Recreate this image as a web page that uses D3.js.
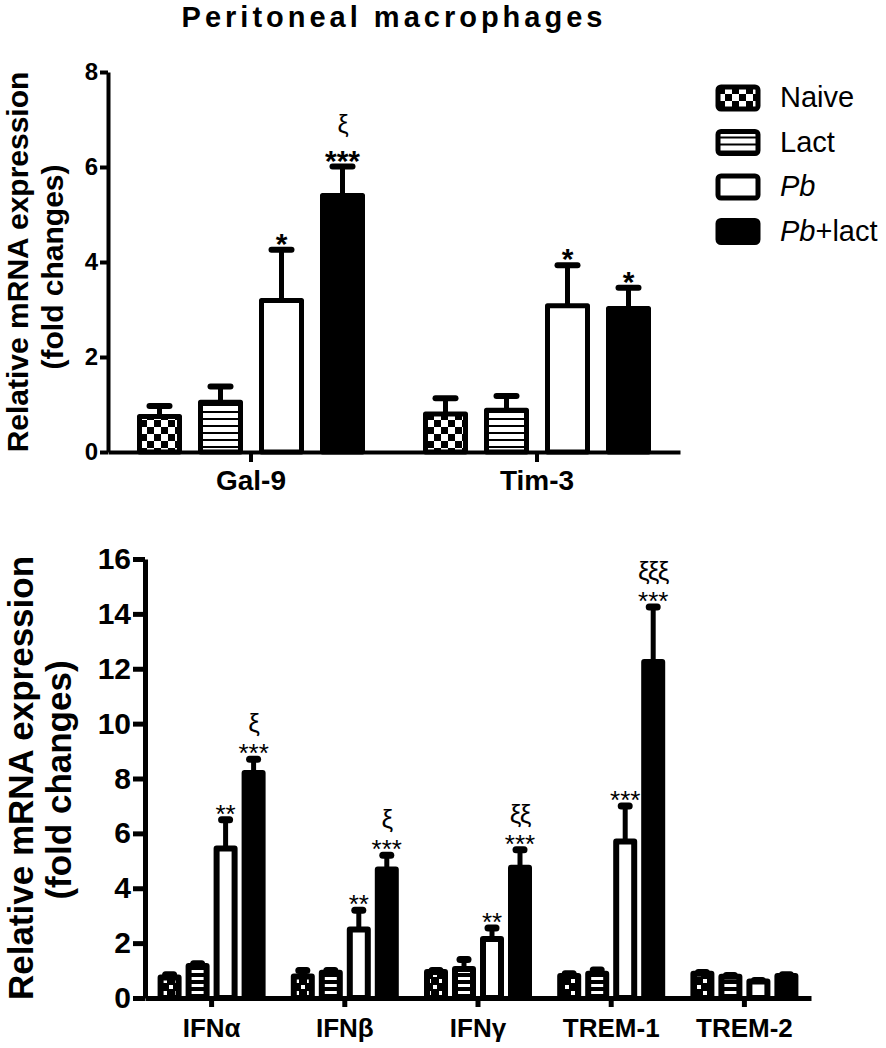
<!DOCTYPE html>
<html>
<head>
<meta charset="utf-8">
<script src="https://d3js.org/d3.v7.min.js"></script>
<style>
body { margin: 0; background: #fff; }
text { font-family: "Liberation Sans", Arial, sans-serif; fill: #000; }
</style>
</head>
<body>
<svg id="drawing_region"></svg>
<script>
const series = ["Naive", "Lact", "Pb", "Pb+lact"];

// upper panel
const topCategories = ["Gal-9", "Tim-3"];
const topNaive = [0.75, 0.80];
const topNaiveErr = [0.97, 1.13];
const topLact = [1.05, 0.88];
const topLactErr = [1.38, 1.18];
const topPb = [3.19, 3.08];
const topPbErr = [4.26, 3.93];
const topPbLact = [5.40, 3.02];
const topPbLactErr = [6.01, 3.46];
const topStars = [["", "", "*", "***"], ["", "", "*", "*"]];
const topXi = [["", "", "", "ξ"], ["", "", "", ""]];
const topTicks = [0, 2, 4, 6, 8];

// lower panel
const botCategories = ["IFNα", "IFNβ", "IFNγ", "TREM-1", "TREM-2"];
const botNaive = [0.75, 0.78, 0.95, 0.80, 0.88];
const botNaiveErr = [0.85, 1.00, 1.00, 0.88, 0.93];
const botLact = [1.17, 0.92, 1.06, 0.88, 0.77];
const botLactErr = [1.25, 1.00, 1.40, 1.02, 0.82];
const botPb = [5.45, 2.50, 2.15, 5.70, 0.60];
const botPbErr = [6.50, 3.20, 2.55, 7.00, 0.64];
const botPbLact = [8.20, 4.68, 4.75, 12.25, 0.80];
const botPbLactErr = [8.70, 5.20, 5.40, 14.25, 0.85];
const botStars = [["", "", "**", "***"], ["", "", "**", "***"], ["", "", "**", "***"], ["", "", "***", "***"], ["", "", "", ""]];
const botXi = [["", "", "", "ξ"], ["", "", "", "ξ"], ["", "", "", "ξξ"], ["", "", "", "ξξξ"], ["", "", "", ""]];
const botTicks = [0, 2, 4, 6, 8, 10, 12, 14, 16];

function buildRows(categories, means, errs, stars, xis) {
    const rows = [];
    categories.forEach((c, i) => {
        series.forEach((s, j) => {
            rows.push({ cat: c, series: s, mean: means[j][i], err: errs[j][i],
                        star: stars[i][j], xi: xis[i][j] });
        });
    });
    return rows;
}

const topData = buildRows(topCategories,
    [topNaive, topLact, topPb, topPbLact],
    [topNaiveErr, topLactErr, topPbErr, topPbLactErr], topStars, topXi);
const botData = buildRows(botCategories,
    [botNaive, botLact, botPb, botPbLact],
    [botNaiveErr, botLactErr, botPbErr, botPbLactErr], botStars, botXi);

const svg = d3.select('#drawing_region')
    .attr('width', 886)
    .attr('height', 1048);

// fill patterns
const defs = svg.append('defs');
function addPattern(id, size, bg, fg, rects) {
    const p = defs.append('pattern')
        .attr('id', id)
        .attr('patternUnits', 'userSpaceOnUse')
        .attr('width', size)
        .attr('height', size);
    p.append('rect').attr('width', size).attr('height', size).attr('fill', bg);
    rects.forEach(r => {
        p.append('rect').attr('x', r[0]).attr('y', r[1])
            .attr('width', r[2]).attr('height', r[3]).attr('fill', fg);
    });
}
addPattern('checkTop', 14, 'white', 'black', [[0, 0, 7, 7], [7, 7, 7, 7]]);
addPattern('linesTop', 7, 'white', 'black', [[0, 5, 7, 2]]);
addPattern('checkBot', 12, 'black', 'white', [[1, 1, 4, 4], [7, 7, 4, 4]]);
addPattern('linesBot', 7, 'white', 'black', [[0, 0, 7, 4]]);

class BarPanel {
    constructor(svg, data, categories, opts) {
        this.svg = svg;
        this.data = data;
        this.categories = categories;
        this.o = opts;
        this.init();
    }

    init() {
        const o = this.o;
        this.xscale = d3.scaleBand()
            .domain(this.categories)
            .range([o.left, o.right]);
        const bw = this.xscale.bandwidth();
        const p = 1 - o.barWidth / o.barStep;
        const span = o.barStep * (series.length - p);
        this.xsub = d3.scaleBand()
            .domain(series)
            .range([(bw - span) / 2, (bw + span) / 2])
            .paddingInner(p);
        this.yscale = d3.scaleLinear()
            .domain([0, o.ymax])
            .range([o.bottom, o.top]);

        const yaxis = d3.axisLeft(this.yscale)
            .tickValues(o.ticks)
            .tickSize(o.ytick)
            .tickPadding(o.ypad)
            .tickSizeOuter(0);
        const xaxis = d3.axisBottom(this.xscale)
            .tickSize(o.xtick)
            .tickPadding(o.xpad)
            .tickSizeOuter(0);

        const yg = this.svg.append('g')
            .attr('transform', `translate(${o.left}, 0)`)
            .call(yaxis);
        const xg = this.svg.append('g')
            .attr('transform', `translate(0, ${o.bottom})`)
            .call(xaxis);
        [yg, xg].forEach(g => {
            g.select('.domain').attr('stroke-width', o.axisWidth);
            g.selectAll('.tick line').attr('stroke-width', o.axisWidth);
        });
        yg.selectAll('text')
            .attr('font-size', o.yfont).attr('font-weight', 'bold')
            .attr('font-family', '"Liberation Sans", Arial, sans-serif');
        xg.selectAll('text')
            .attr('font-size', o.xfont).attr('font-weight', 'bold')
            .attr('font-family', '"Liberation Sans", Arial, sans-serif');
    }

    update() {
        const o = this.o;
        const cx = d => this.xscale(d.cat) + this.xsub(d.series) + this.xsub.bandwidth() / 2;

        // error bars (upper only)
        this.svg.append('g').selectAll('line')
            .data(this.data)
            .join('line')
            .attr('x1', cx).attr('x2', cx)
            .attr('y1', d => this.yscale(d.mean))
            .attr('y2', d => this.yscale(d.err))
            .attr('stroke', 'black')
            .attr('stroke-width', o.errWidth);
        this.svg.append('g').selectAll('line')
            .data(this.data)
            .join('line')
            .attr('x1', d => cx(d) - o.capHalf).attr('x2', d => cx(d) + o.capHalf)
            .attr('y1', d => this.yscale(d.err))
            .attr('y2', d => this.yscale(d.err))
            .attr('stroke', 'black')
            .attr('stroke-width', o.capWidth)
            .attr('stroke-linecap', 'round');

        // bars
        this.svg.append('g').selectAll('rect')
            .data(this.data)
            .join('rect')
            .attr('x', d => this.xscale(d.cat) + this.xsub(d.series))
            .attr('y', d => this.yscale(d.mean))
            .attr('width', this.xsub.bandwidth())
            .attr('height', d => o.bottom - this.yscale(d.mean))
            .attr('fill', d => o.fills[series.indexOf(d.series)])
            .attr('stroke', 'black')
            .attr('stroke-width', o.barStroke)
            .attr('stroke-linejoin', 'round');

        // significance marks
        this.svg.append('g').selectAll('text')
            .data(this.data.filter(d => d.star))
            .join('text')
            .attr('x', cx)
            .attr('y', d => this.yscale(d.err) + o.starDy)
            .attr('text-anchor', 'middle')
            .attr('font-size', o.starFont)
            .attr('font-weight', o.starWeight)
            .text(d => d.star);
        this.svg.append('g').selectAll('text')
            .data(this.data.filter(d => d.xi))
            .join('text')
            .attr('x', cx)
            .attr('y', d => this.yscale(d.err) + o.xiDy)
            .attr('text-anchor', 'middle')
            .attr('font-size', o.xiFont)
            .attr('letter-spacing', -1)
            .text(d => d.xi);

        // y label
        o.ylabel.forEach((t, i) => {
            this.svg.append('text')
                .attr('transform', `translate(${o.ylabelX[i]}, ${o.ylabelY[i]}) rotate(-90)`)
                .attr('text-anchor', 'middle')
                .attr('font-size', o.ylabelFont)
                .attr('font-weight', 'bold')
                .text(t);
        });
    }
}

const topPanel = new BarPanel(svg, topData, topCategories, {
    left: 108, right: 680, top: 72, bottom: 452, ymax: 8, ticks: topTicks,
    barWidth: 40, barStep: 61, barStroke: 5,
    fills: ['url(#checkTop)', 'url(#linesTop)', 'white', 'black'],
    ytick: 8, ypad: 2, xtick: 10, xpad: 8, axisWidth: 4, yfont: 24, xfont: 28,
    errWidth: 5, capHalf: 10, capWidth: 6,
    starDy: 4, starFont: 30, starWeight: 'bold', xiDy: -34, xiFont: 25,
    ylabel: ['Relative mRNA expression', '(fold changes)'],
    ylabelX: [28, 63], ylabelY: [262, 267], ylabelFont: 30
});
topPanel.update();

const botPanel = new BarPanel(svg, botData, botCategories, {
    left: 145, right: 811, top: 559, bottom: 998, ymax: 16, ticks: botTicks,
    barWidth: 18, barStep: 28, barStroke: 6,
    fills: ['url(#checkBot)', 'url(#linesBot)', 'white', 'black'],
    ytick: 12, ypad: 2, xtick: 9, xpad: 12, axisWidth: 5, yfont: 30, xfont: 26,
    errWidth: 5, capHalf: 4, capWidth: 7,
    starDy: 3, starFont: 26, starWeight: 'normal', xiDy: -27, xiFont: 26,
    ylabel: ['Relative mRNA expression', '(fold changes)'],
    ylabelX: [33, 71], ylabelY: [778, 780], ylabelFont: 35
});
botPanel.update();

// title
svg.append('text')
    .attr('x', 394)
    .attr('y', 27)
    .attr('text-anchor', 'middle')
    .attr('font-size', 29)
    .attr('font-weight', 'bold')
    .attr('letter-spacing', 4)
    .text('Peritoneal macrophages');

// legend
const legendFills = ['url(#checkTop)', 'url(#linesTop)', 'white', 'black'];
const legend = svg.append('g').selectAll('g')
    .data(series)
    .join('g')
    .attr('transform', (d, i) => `translate(718, ${87 + i * 44.5})`);
legend.append('rect')
    .attr('width', 40)
    .attr('height', 22)
    .attr('rx', 3)
    .attr('fill', (d, i) => legendFills[i])
    .attr('stroke', 'black')
    .attr('stroke-width', 5);
legend.append('text')
    .attr('x', 62)
    .attr('y', 20)
    .attr('font-size', 29)
    .each(function(d) {
        const t = d3.select(this);
        if (d.startsWith('Pb')) {
            t.append('tspan').attr('font-style', 'italic').text('Pb');
            t.append('tspan').text(d.slice(2));
        } else {
            t.text(d);
        }
    });
</script>
</body>
</html>
